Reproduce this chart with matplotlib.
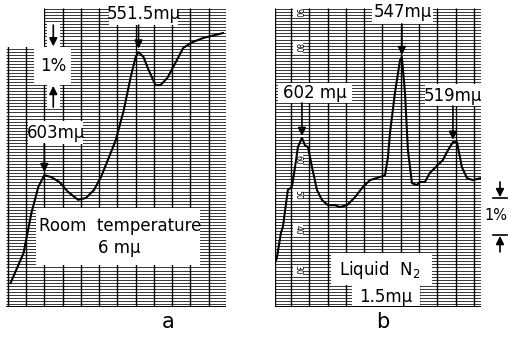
import numpy as np
import matplotlib
matplotlib.use('Agg')
import matplotlib.pyplot as plt
from matplotlib.patches import Rectangle

# panel a: room temperature, 6 mu slit (wavelength in mu, transmission offset in %)
wl_a = [621.5, 614.4, 610.1, 606.3, 603.0, 599.2, 594.8, 590.0, 584.5, 580.2, 575.8, 572.0,
        568.2, 563.9, 559.5, 555.7, 553.0, 551.4, 548.7, 545.9, 542.1, 539.4, 535.6, 531.3,
        526.9, 522.0, 516.0, 505.2]
tr_a = [0.63, 1.42, 2.47, 3.16, 3.47, 3.42, 3.29, 3.03, 2.82, 2.87, 3.08, 3.42,
        3.87, 4.39, 5.18, 6.05, 6.58, 6.71, 6.58, 6.24, 5.84, 5.84, 6.03, 6.42,
        6.82, 6.97, 7.08, 7.21]

# panel b: liquid N2, 1.5 mu slit
wl_b = [616.8, 615.7, 613.5, 612.4, 609.7, 607.5, 605.8, 604.2, 602.0, 600.4, 598.7, 596.5,
        593.8, 591.1, 587.8, 584.0, 581.2, 577.4, 573.0, 568.7, 564.8, 559.4, 556.6, 555.0,
        553.9, 551.2, 548.4, 547.4, 545.7, 544.1, 541.9, 539.2, 537.5, 534.8, 532.1, 527.7,
        525.0, 522.2, 519.5, 517.3, 514.6, 511.8, 508.6, 504.7]
tr_b = [1.16, 1.29, 1.95, 2.11, 3.08, 3.16, 3.68, 4.21, 4.45, 4.26, 4.21, 3.68,
        3.08, 2.82, 2.68, 2.68, 2.63, 2.68, 2.89, 3.16, 3.34, 3.42, 3.47, 3.95,
        4.58, 5.63, 6.50, 6.58, 5.63, 4.13, 3.26, 3.21, 3.29, 3.29, 3.53, 3.74,
        3.87, 4.13, 4.34, 4.34, 3.68, 3.39, 3.34, 3.39]

# scale numbers printed on chart paper b
scale_labels = ['90', '80', '60', '50', '40', '30']
scale_pos = [7.74, 6.82, 3.87, 2.95, 2.03, 0.97]

YTOP = 7.87
FS = 12


def chart_paper(ax, xleft, xright, vlines):
    ax.set_xlim(xleft, xright)
    ax.set_ylim(0, YTOP)
    ax.axis('off')
    ys = np.arange(0.08, YTOP, 0.08)
    ax.hlines(ys, xleft, xright, colors='black', lw=0.55, zorder=1)
    ax.vlines(vlines, 0, YTOP, colors='black', lw=1.0, zorder=1)
    ax.hlines([0], xleft, xright, colors='black', lw=1.4, zorder=1)


def white_box(ax, x0, x1, y0, y1):
    ax.add_patch(Rectangle((min(x0, x1), y0), abs(x1 - x0), y1 - y0, fc='white', ec='none',
                           zorder=2, clip_on=False))


def arrow(ax, x, y0, y1):
    ax.annotate('', xy=(x, y1), xytext=(x, y0), annotation_clip=False, zorder=5,
                arrowprops=dict(arrowstyle='-|>', color='black', lw=1.2, mutation_scale=12,
                                shrinkA=0, shrinkB=0))


def main():
    fig = plt.figure(figsize=(5.08, 3.43), dpi=100)

    # ---- panel a
    ax = fig.add_axes([6 / 508, 36 / 343, 220 / 508, 299 / 343])
    chart_paper(ax, 624, 503.5, np.arange(513, 624, 10))
    white_box(ax, 625, 603.2, 6.84, 8.2)
    white_box(ax, 608.4, 588.3, 5.84, 6.84)
    white_box(ax, 601.5, 594.5, 6.84, 7.5)
    white_box(ax, 601.5, 594.5, 5.26, 5.84)
    white_box(ax, 567.7, 529.6, 7.42, 8.1)
    white_box(ax, 612.0, 582.0, 4.3, 4.9)
    white_box(ax, 607.3, 517.7, 1.11, 2.61)
    ax.plot(wl_a, tr_a, color='black', lw=1.5, zorder=3)
    ax.text(548.7, 7.71, '551.5mμ', fontsize=FS, ha='center', va='center', zorder=4)
    arrow(ax, 551.4, 7.42, 6.8)
    ax.text(596.5, 4.58, '603mμ', fontsize=FS, ha='center', va='center', zorder=4)
    arrow(ax, 603.0, 4.3, 3.55)
    ax.text(598.1, 6.34, '1%', fontsize=FS, ha='center', va='center', zorder=4)
    arrow(ax, 598.1, 7.42, 6.86)
    arrow(ax, 598.1, 5.26, 5.82)
    ax.text(561.2, 2.13, 'Room  temperature', fontsize=FS, ha='center', va='center', zorder=4)
    ax.text(562.2, 1.55, '6 mμ', fontsize=FS, ha='center', va='center', zorder=4)

    # ---- panel b
    ax = fig.add_axes([274.5 / 508, 36 / 343, 206.8 / 508, 299 / 343])
    chart_paper(ax, 617, 504, list(np.arange(508, 609, 10)) + [616.8])
    white_box(ax, 615.1, 574.7, 5.37, 5.89)
    white_box(ax, 563.7, 530.4, 7.45, 8.2)
    white_box(ax, 534.8, 503.6, 5.29, 5.87)
    white_box(ax, 586.2, 531.0, 0.58, 1.42)
    white_box(ax, 574.7, 537.5, 0.02, 0.58)
    for lab, y in zip(scale_labels, scale_pos):
        ax.text(604.2, y, lab, fontsize=5.5, rotation=-90, ha='center', va='center', zorder=2,
                bbox=dict(fc='white', ec='none', pad=0.3))
    ax.plot(wl_b, tr_b, color='black', lw=1.5, zorder=3)
    ax.text(594.9, 5.63, '602 mμ', fontsize=FS, ha='center', va='center', zorder=4)
    arrow(ax, 602.0, 5.37, 4.5)
    ax.text(546.8, 7.76, '547mμ', fontsize=FS, ha='center', va='center', zorder=4)
    arrow(ax, 547.4, 7.45, 6.63)
    ax.text(519.5, 5.55, '519mμ', fontsize=FS, ha='center', va='center', zorder=4)
    arrow(ax, 519.5, 5.29, 4.4)
    ax.text(559.4, 0.97, 'Liquid  N$_2$', fontsize=FS, ha='center', va='center', zorder=4)
    ax.text(556.1, 0.26, '1.5mμ', fontsize=FS, ha='center', va='center', zorder=4)

    # 1% scale bar to the right of b
    arrow(ax, 493.8, 3.29, 2.89)
    arrow(ax, 493.8, 1.45, 1.87)
    ax.plot([497.6, 489.9], [2.87, 2.87], color='black', lw=1.2, clip_on=False)
    ax.plot([497.6, 489.9], [1.89, 1.89], color='black', lw=1.2, clip_on=False)
    fig.text(507 / 508, 1 - 216 / 343, '1%', fontsize=10.5, ha='right', va='center')

    fig.text(168 / 508, 1 - 322 / 343, 'a', fontsize=15, ha='center', va='center')
    fig.text(383 / 508, 1 - 322 / 343, 'b', fontsize=15, ha='center', va='center')

    plt.savefig('out.png', dpi=100)


if __name__ == '__main__':
    main()
